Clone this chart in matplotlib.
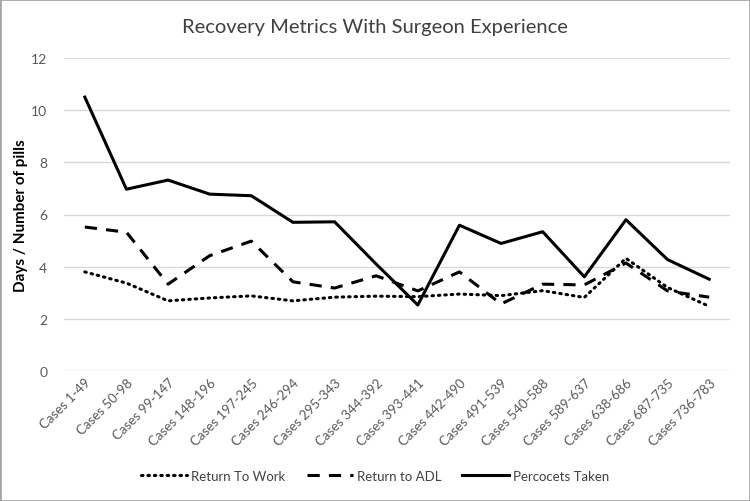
import matplotlib.pyplot as plt
import numpy as np

plt.rcParams['font.family'] = ['Lato', 'DejaVu Sans']

categories = ["Cases 1-49", "Cases 50-98", "Cases 99-147", "Cases 148-196",
              "Cases 197-245", "Cases 246-294", "Cases 295-343", "Cases 344-392",
              "Cases 393-441", "Cases 442-490", "Cases 491-539", "Cases 540-588",
              "Cases 589-637", "Cases 638-686", "Cases 687-735", "Cases 736-783"]
return_work = [3.8, 3.37, 2.69, 2.8, 2.88, 2.69, 2.83, 2.87,
               2.85, 2.95, 2.89, 3.08, 2.82, 4.32, 3.2, 2.48]
return_adl = [5.52, 5.32, 3.33, 4.42, 4.98, 3.42, 3.18, 3.65,
              3.07, 3.8, 2.57, 3.33, 3.3, 4.14, 3.07, 2.83]
percocets = [10.5, 6.97, 7.32, 6.78, 6.72, 5.7, 5.72, 4.1,
             2.53, 5.59, 4.89, 5.34, 3.61, 5.8, 4.27, 3.52]

x = np.arange(len(categories))

fig = plt.figure(figsize=(7.5, 5.02), dpi=100)
ax = fig.add_axes([64/750, 1 - 372/502, (730-64)/750, (372-59)/502])

ax.plot(x, return_work, color="black", lw=2.2, ls=(0, (0.5, 1.6)),
        dash_capstyle="round", label="Return To Work")
ax.plot(x, return_adl, color="black", lw=2.2, ls=(0, (4, 3)), label="Return to ADL")
ax.plot(x, percocets, color="black", lw=2.2, label="Percocets Taken")

ax.set_xlim(-0.5, len(categories) - 0.5)
ax.set_ylim(0, 12)
ax.set_yticks(np.arange(0, 13, 2))
ax.set_xticks(x)
ax.set_xticklabels(categories, rotation=45, ha="right", rotation_mode="anchor")
ax.tick_params(axis="both", length=0, colors="#595959", labelsize=9.5)
ax.tick_params(axis="y", pad=12, labelsize=10)
ax.grid(axis="y", color="#d9d9d9", lw=1)
ax.set_axisbelow(True)
for s in ax.spines.values():
    s.set_visible(False)

ax.set_ylabel("Days / Number of pills", fontsize=11, fontweight="bold", labelpad=2)
fig.text(0.5, 1 - 28/502, "Recovery Metrics With Surgeon Experience",
         ha="center", va="center", fontsize=14.5, color="#404040")

fig.legend(loc="center", bbox_to_anchor=(0.5, 1 - 477/502), ncol=3, frameon=False,
           fontsize=9.5, handlelength=3.5, columnspacing=1.6, handletextpad=0.3,
           labelcolor="#404040")

fig.patches.append(plt.Rectangle((0, 0), 1, 1, transform=fig.transFigure,
                                 fill=False, edgecolor="#a6a6a6", lw=2))

fig.savefig("out.png", dpi=100)
